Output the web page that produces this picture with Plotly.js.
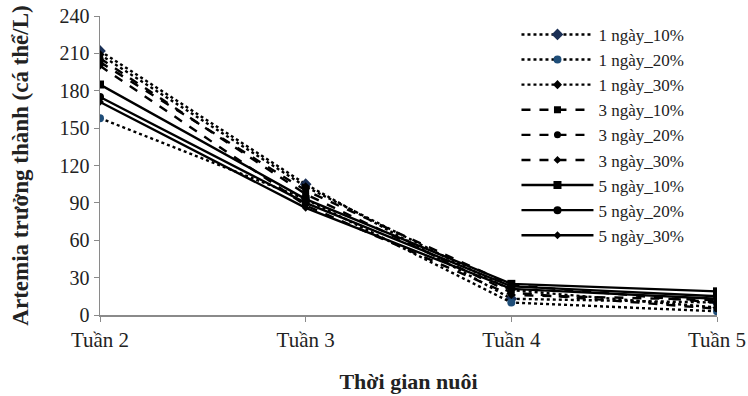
<!DOCTYPE html>
<html>
<head>
<meta charset="utf-8">
<script src="https://cdn.plot.ly/plotly-3.0.1.min.js"></script>
<style>html,body{margin:0;padding:0;background:#fff;}#chart{width:748px;height:396px;}</style>
</head>
<body>
<div id="chart"></div>
<script>
const weeks = ["Tuần 2", "Tuần 3", "Tuần 4", "Tuần 5"];
const seriesNames = ["1 ngày_10%", "1 ngày_20%", "1 ngày_30%", "3 ngày_10%", "3 ngày_20%", "3 ngày_30%", "5 ngày_10%", "5 ngày_20%", "5 ngày_30%"];
const s1d10 = [212, 105, 13, 10];
const s1d20 = [158, 93, 10, 3];
const s1d30 = [209, 103, 20, 6];
const s3d10 = [203, 100, 24, 10];
const s3d20 = [206, 97, 18, 5];
const s3d30 = [200, 88, 16, 12];
const s5d10 = [185, 93, 25, 19];
const s5d20 = [175, 90, 23, 15];
const s5d30 = [171, 86, 21, 13];
const seriesValues = [s1d10, s1d20, s1d30, s3d10, s3d20, s3d30, s5d10, s5d20, s5d30];

const styles = [
  {dash: "dot", symbol: "diamond", size: 9, color: "#1a2f55"},
  {dash: "dot", symbol: "circle", size: 8, color: "#1f4e79"},
  {dash: "dot", symbol: "diamond", size: 7, color: "#000"},
  {dash: "dash", symbol: "square", size: 7, color: "#000"},
  {dash: "dash", symbol: "circle", size: 7, color: "#000"},
  {dash: "dash", symbol: "diamond", size: 6, color: "#000"},
  {dash: "solid", symbol: "square", size: 8, color: "#000"},
  {dash: "solid", symbol: "circle", size: 8, color: "#000"},
  {dash: "solid", symbol: "diamond", size: 6, color: "#000"}
];

const traces = seriesNames.map((n, i) => ({
  type: "scatter",
  mode: "lines+markers",
  name: n,
  x: weeks,
  y: seriesValues[i],
  line: {color: "#000", width: 2.4, dash: styles[i].dash},
  marker: {symbol: styles[i].symbol, size: styles[i].size, color: styles[i].color}
}));

const font = {family: "Liberation Serif, Times New Roman, serif", color: "#222"};

const layout = {
  width: 748, height: 396,
  margin: {l: 100, r: 31, t: 16, b: 81},
  paper_bgcolor: "#fff", plot_bgcolor: "#fff",
  font: Object.assign({size: 18}, font),
  showlegend: true,
  legend: {
    x: 0.675, y: 0.997, xanchor: "left", yanchor: "top",
    bgcolor: "rgba(0,0,0,0)", tracegroupgap: 0,
    font: Object.assign({size: 17}, font),
    itemwidth: 72
  },
  xaxis: {
    type: "category", range: [0, 3],
    showline: true, linecolor: "#8a8a8a", linewidth: 1.5,
    ticks: "outside", ticklen: 5, tickcolor: "#8a8a8a",
    showgrid: false, zeroline: false,
    tickfont: Object.assign({size: 21}, font),
    title: {text: "<b>Thời gian nuôi</b>", font: Object.assign({size: 22}, font), standoff: 23}
  },
  yaxis: {
    range: [0, 240], dtick: 30, tick0: 0,
    showline: true, linecolor: "#8a8a8a", linewidth: 1.5,
    ticks: "outside", ticklen: 5, tickcolor: "#8a8a8a",
    showgrid: false, zeroline: false,
    tickfont: Object.assign({size: 20}, font),
    title: {text: "<b>Artemia trưởng thành (cá thể/L)</b>", font: Object.assign({size: 23}, font), standoff: 24}
  }
};

Plotly.newPlot("chart", traces, layout, {displayModeBar: false, staticPlot: true});
</script>
</body>
</html>
